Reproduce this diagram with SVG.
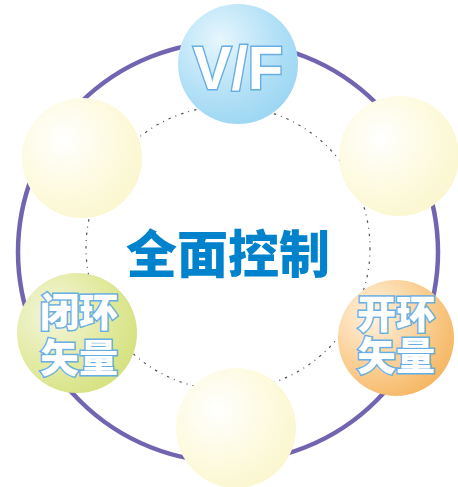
<svg xmlns="http://www.w3.org/2000/svg" width="458" height="487" viewBox="0 0 458 487">
<defs>
<radialGradient id="gBlue" cx="0.35" cy="0.3" r="0.75"><stop offset="0" stop-color="#e6f6fd"/><stop offset="0.6" stop-color="#b4e1f7"/><stop offset="1" stop-color="#9cd6f2"/></radialGradient>
<radialGradient id="gYel" cx="0.35" cy="0.35" r="0.75"><stop offset="0" stop-color="#ffffff"/><stop offset="0.5" stop-color="#fdfbe3"/><stop offset="1" stop-color="#fbf6cd"/></radialGradient>
<radialGradient id="gGrn" cx="0.3" cy="0.35" r="0.8"><stop offset="0" stop-color="#f3f6df"/><stop offset="0.5" stop-color="#e4eba6"/><stop offset="1" stop-color="#d3e07a"/></radialGradient>
<radialGradient id="gOrg" cx="0.3" cy="0.3" r="0.8"><stop offset="0" stop-color="#fff3e2"/><stop offset="0.5" stop-color="#fbd39c"/><stop offset="1" stop-color="#f5b560"/></radialGradient>
<style>
.lbl{font-family:"Liberation Sans","Noto Sans CJK SC",sans-serif;font-weight:900;fill:#ffffff;stroke:#68aee2;stroke-width:3;paint-order:stroke;text-anchor:middle}
.vf{font-family:"Liberation Sans","DejaVu Sans",sans-serif;font-weight:bold;fill:#ffffff;stroke:#68aee2;stroke-width:3;paint-order:stroke;text-anchor:middle}
</style>
</defs>
<rect width="458" height="487" fill="#ffffff"/>
<g id="connectors">
<circle cx="228" cy="252" r="210" fill="none" stroke="#7264b0" stroke-width="4.5"/>
<circle cx="228" cy="248" r="142" fill="none" stroke="#555555" stroke-width="1.2" stroke-dasharray="2.5 5 1 5"/>
</g>
<g id="center"><text x="228" y="273" font-family="Noto Sans CJK SC,Liberation Sans,sans-serif" font-weight="900" font-size="51" fill="#0082cc" text-anchor="middle">全面控制</text></g>
<g id="vf"><circle cx="238" cy="64" r="60" fill="url(#gBlue)"/><text class="vf" x="238" y="89" font-size="62" textLength="90" lengthAdjust="spacingAndGlyphs">V/F</text></g>
<g id="topright"><circle cx="399" cy="156" r="60" fill="url(#gYel)"/></g>
<g id="topleft"><circle cx="82" cy="158" r="60" fill="url(#gYel)"/></g>
<g id="closed"><circle cx="77" cy="333" r="60" fill="url(#gGrn)"/><text class="lbl" font-size="39"><tspan x="79" y="326">闭环</tspan><tspan x="79" y="372">矢量</tspan></text></g>
<g id="open"><circle cx="396" cy="338" r="58" fill="url(#gOrg)"/><text class="lbl" font-size="39"><tspan x="396" y="328">开环</tspan><tspan x="396" y="370">矢量</tspan></text></g>
<g id="bottom"><circle cx="236" cy="428" r="60" fill="url(#gYel)"/></g>
</svg>
